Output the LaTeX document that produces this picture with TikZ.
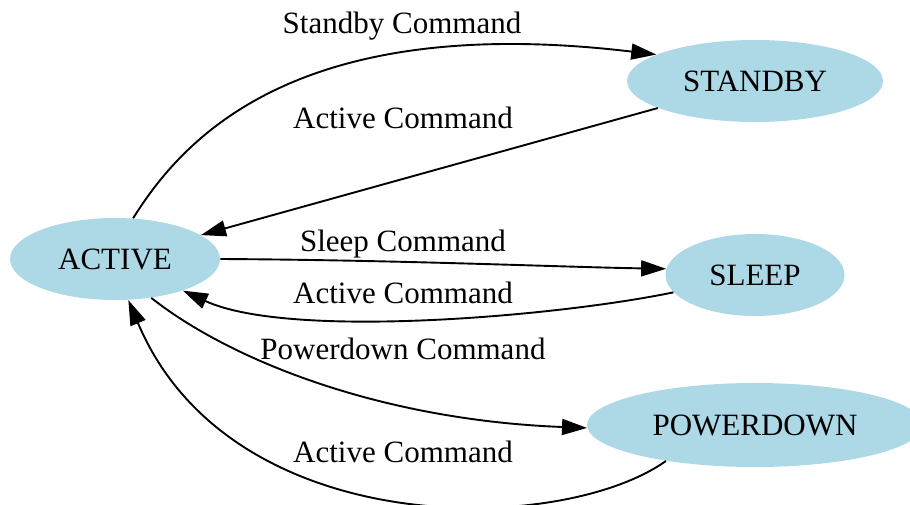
\documentclass[tikz,border=0pt]{standalone}
\usepackage{fontspec}
\setmainfont{Liberation Serif}
\usetikzlibrary{shapes.geometric,arrows.meta}
\definecolor{nodeblue}{HTML}{ADD8E6}
\begin{document}
\begin{tikzpicture}[x=0.5pt,y=-0.5pt,
  state/.style={ellipse, fill=nodeblue, inner sep=0pt, font=\fontsize{15.5}{18}\selectfont},
  edge/.style={line width=0.95pt, -{Triangle[length=12.5pt,width=8pt]}},
  lbl/.style={anchor=base, font=\fontsize{15.5}{18}\selectfont}]
\useasboundingbox (0,0) rectangle (910,504);
\node[state, minimum width=105pt, minimum height=41pt] (active) at (115,259) {ACTIVE};
\node[state, minimum width=128pt, minimum height=41pt] (standby) at (755,81) {STANDBY};
\node[state, minimum width=89.5pt, minimum height=41pt] (sleep) at (755,275) {SLEEP};
\node[state, minimum width=168pt, minimum height=42pt] (powerdown) at (755,425) {POWERDOWN};

\draw[edge] (active.66) .. controls (185,135) and (300,12) .. (standby.165);
\draw[edge] (standby) -- (active);
\draw[edge] (active.east) .. controls (400,260) and (560,267) .. (sleep.176);
\draw[edge] (sleep.192) .. controls (560,316) and (290,340) .. (active.335);
\draw[edge] (active.313) .. controls (230,360) and (380,420) .. (powerdown.181);
\draw[edge] (powerdown.202) .. controls (560,536) and (230,542) .. (active.288);

\node[lbl] (l1) at (402,33) {Standby Command};
\node[lbl] (l2) at (403,128) {Active Command};
\node[lbl] (l3) at (403,251) {Sleep Command};
\node[lbl] (l4) at (403,303) {Active Command};
\node[lbl] (l5) at (403,359) {Powerdown Command};
\node[lbl] (l6) at (403,462) {Active Command};
\end{tikzpicture}
\end{document}
